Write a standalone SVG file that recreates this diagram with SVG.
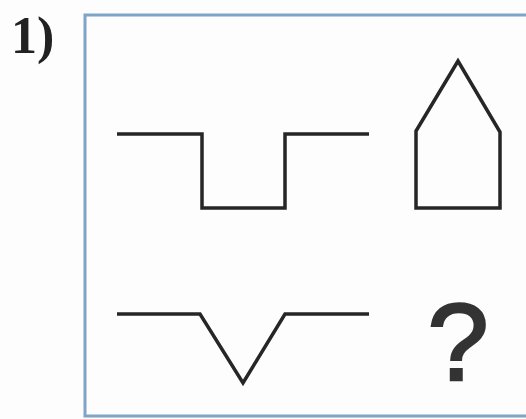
<svg xmlns="http://www.w3.org/2000/svg" width="526" height="419" viewBox="0 0 526 419">
<style>
.fig{fill:none;stroke:#262626;stroke-width:3.5;stroke-linejoin:miter;stroke-linecap:butt}
</style>
<rect width="526" height="419" fill="#fdfdfd"/>
<text x="11" y="53" font-family="'Liberation Serif', serif" font-weight="bold" font-size="52" fill="#222">1)</text>
<rect x="85" y="15" width="460" height="401" fill="none" stroke="#7ea4c6" stroke-width="3"/>
<g id="square-wave"><polyline class="fig" points="117,134 202,134 202,208 285,208 285,134 369,134"/></g>
<g id="house"><polygon class="fig" points="416,208 416,131 458,61 500,132 500,208"/></g>
<g id="v-wave"><polyline class="fig" points="117,314 200,314 243,383 285,314 369,314"/></g>
<g id="question"><text x="458" y="380" text-anchor="middle" font-family="'Liberation Sans', sans-serif" font-size="110" fill="#333" stroke="#333" stroke-width="2.5">?</text></g>
</svg>
